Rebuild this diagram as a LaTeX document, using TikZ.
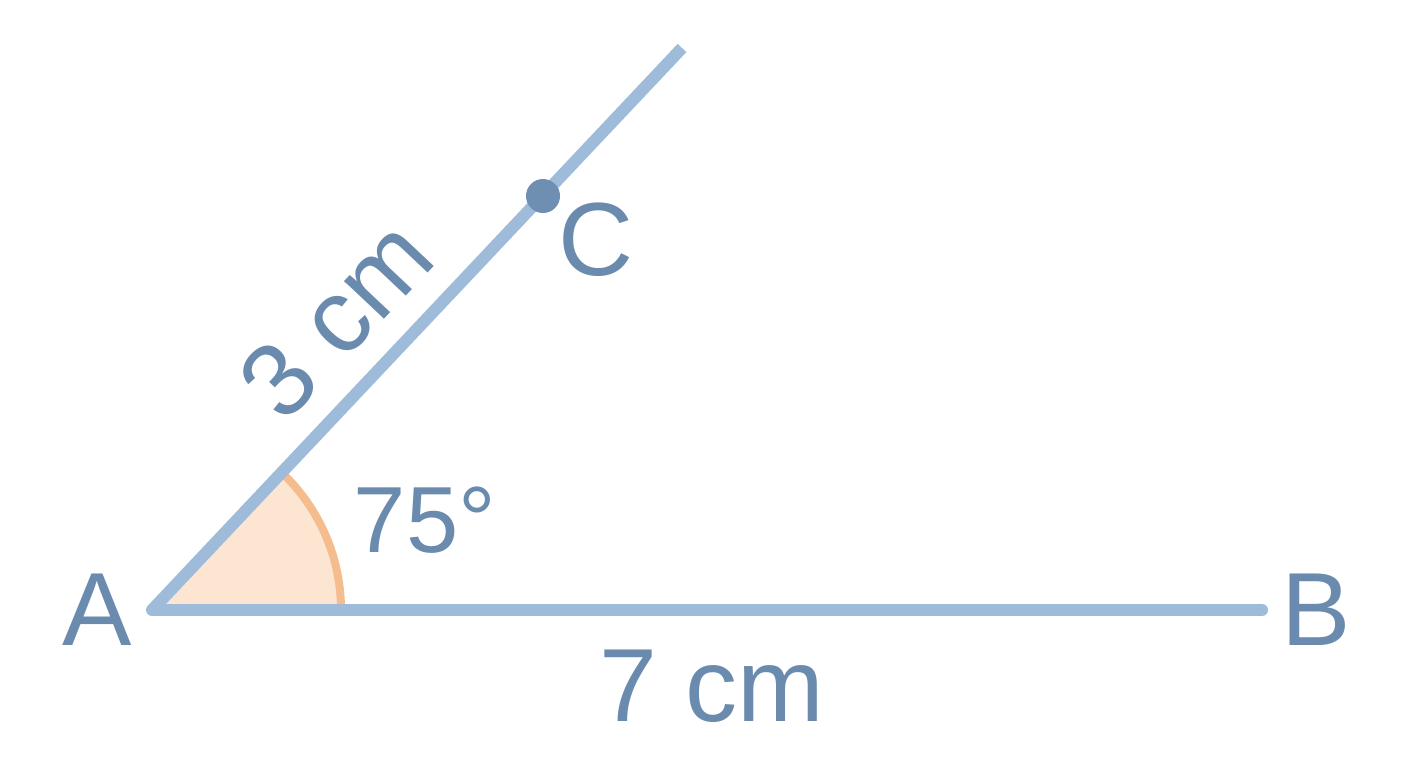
\documentclass[tikz,border=0pt]{standalone}
\usepackage{fontspec}
\setmainfont{Liberation Sans}
\definecolor{rayblue}{HTML}{9EBBD9}
\definecolor{labelblue}{HTML}{6A8BAE}
\definecolor{dotblue}{HTML}{6E8FB2}
\definecolor{anglefill}{HTML}{FCE6D2}
\definecolor{angleline}{HTML}{F5BD8D}

\begin{document}
\begin{tikzpicture}[x=0.5pt,y=-0.5pt]
\tikzset{ray/.style={rayblue, line width=6pt},
  lbl/.style={text=labelblue, inner sep=0pt, font=\fontsize{52}{60}\selectfont},
  anglelbl/.style={lbl, font=\fontsize{47}{56}\selectfont}}
\useasboundingbox (0,0) rectangle (1408,768);
% points of the figure
\coordinate (A) at (152,610);
\coordinate (B) at (1262,610);
\coordinate (E) at (682,48);
\coordinate (C) at (543,196);
% angle sector
\fill [anglefill] (A) -- ++(0:189) arc [start angle=0, end angle=-46.7, radius=189] -- cycle;
\draw [angleline, line width=4pt] (A) ++(0:189) arc [start angle=0, end angle=-46.7, radius=189];
% sides
\draw [ray, line cap=round] (A) -- (B);
\draw [ray] (A) -- (E) node [lbl, pos=0.437, sloped, yshift=33pt] (ac) {3 cm};
\fill [dotblue] (C) circle (17);
% labels
\node [lbl] (la) at (97,610) {A};
\node [lbl] (lb) at (1316,610) {B};
\node [lbl] (lc) at (596,240) {C};
\node [lbl] (ab) at (712,686) {7 cm};
\node [anglelbl] (ang) at (425,520) {75°};
\end{tikzpicture}
\end{document}
